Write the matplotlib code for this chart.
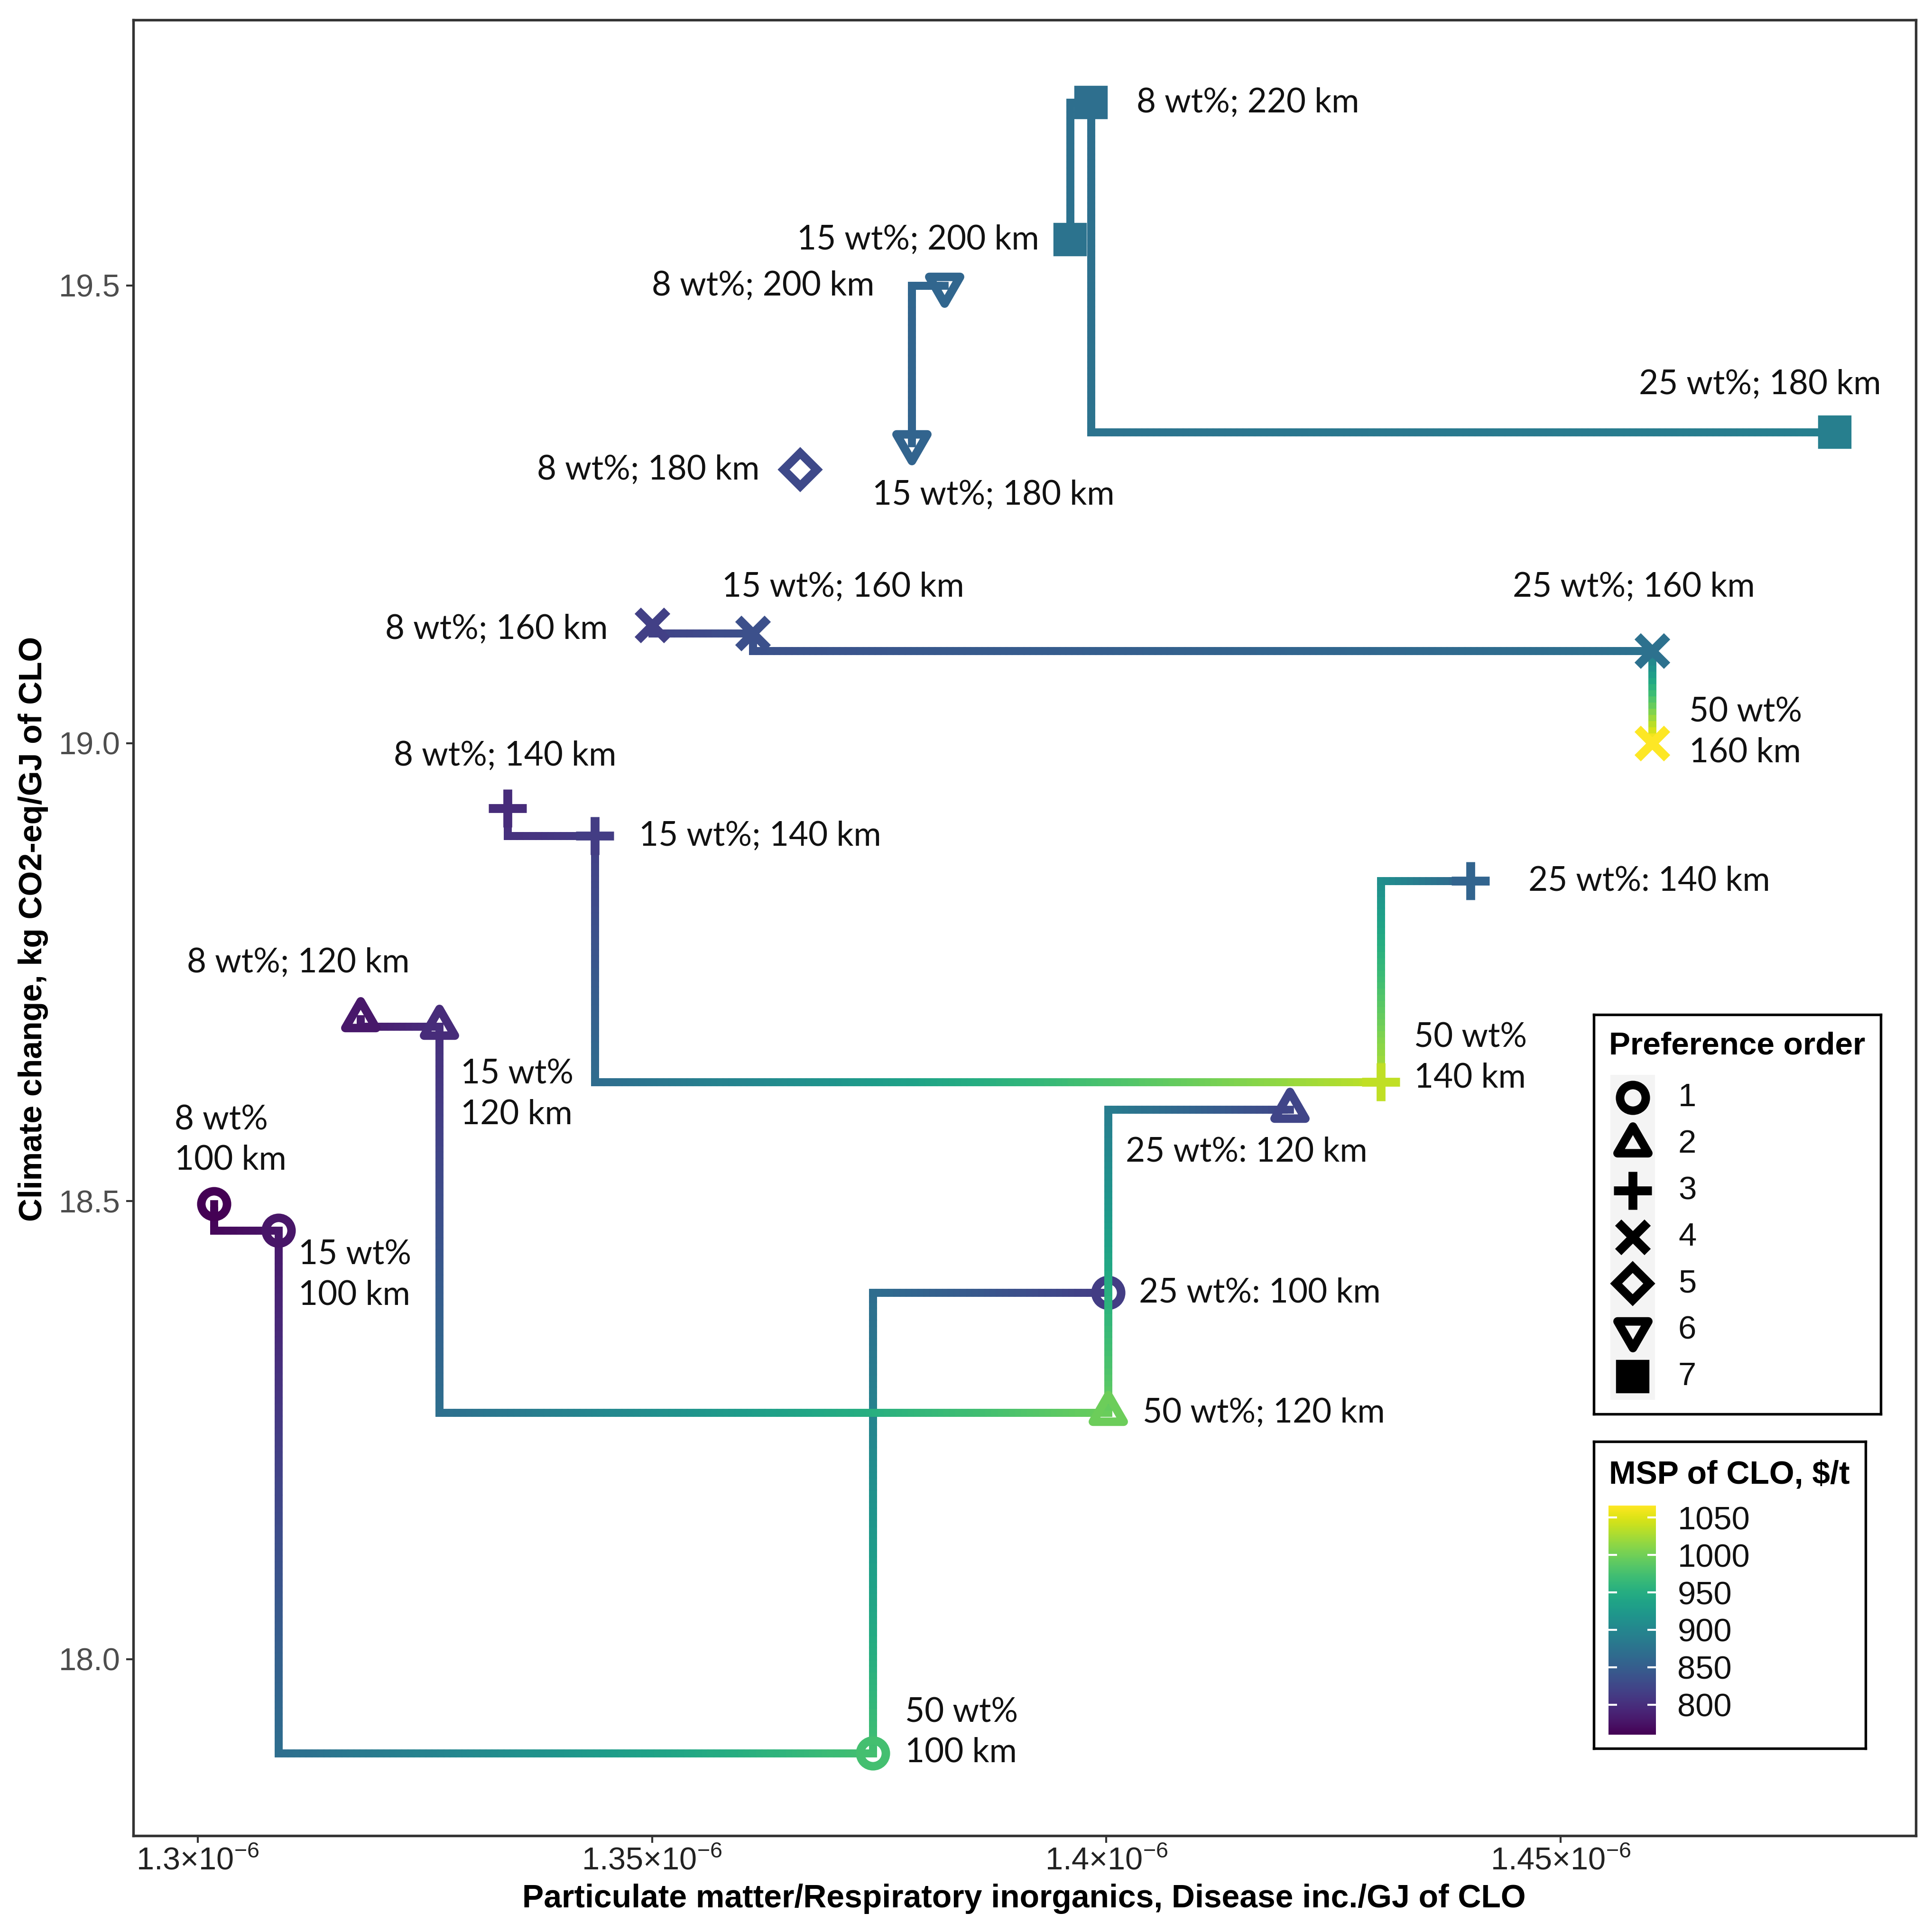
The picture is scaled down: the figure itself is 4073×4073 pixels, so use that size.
import numpy as np
import matplotlib
matplotlib.use("Agg")
import matplotlib.pyplot as plt
from matplotlib.collections import LineCollection
from matplotlib.colors import Normalize
from matplotlib.cm import ScalarMappable
from matplotlib.path import Path
from matplotlib.patches import Rectangle
from matplotlib.ticker import FuncFormatter

# ---- data ----
labels = ["8 wt%\n100 km", "15 wt%\n100 km", "50 wt%\n100 km", "25 wt%: 100 km",
          "8 wt%; 120 km", "15 wt%\n120 km", "50 wt%; 120 km", "25 wt%: 120 km",
          "8 wt%; 140 km", "15 wt%; 140 km", "50 wt%\n140 km", "25 wt%: 140 km",
          "8 wt%; 160 km", "15 wt%; 160 km", "25 wt%; 160 km", "50 wt%\n160 km",
          "8 wt%; 180 km", "15 wt%; 180 km", "8 wt%; 200 km",
          "15 wt%; 200 km", "8 wt%; 220 km", "25 wt%; 180 km"]
pm = [1.3018e-6, 1.3089e-6, 1.3743e-6, 1.4002e-6,
      1.3179e-6, 1.3266e-6, 1.4002e-6, 1.4202e-6,
      1.3341e-6, 1.3437e-6, 1.4302e-6, 1.4401e-6,
      1.3500e-6, 1.3611e-6, 1.4601e-6, 1.4601e-6,
      1.3663e-6, 1.3786e-6, 1.3822e-6,
      1.3960e-6, 1.3983e-6, 1.4802e-6]
gwp = [18.497, 18.468, 17.897, 18.400,
       18.699, 18.691, 18.269, 18.600,
       18.929, 18.899, 18.630, 18.850,
       19.129, 19.120, 19.101, 19.000,
       19.299, 19.328, 19.500,
       19.550, 19.700, 19.340]
msp = [760, 777, 975, 814,
       780, 798, 997, 823,
       798, 814, 1037, 857,
       818, 835, 873, 1066,
       828, 857, 860,
       876, 870, 891]
pref = [1, 1, 1, 1, 2, 2, 2, 2, 3, 3, 3, 3, 4, 4, 4, 4, 5, 6, 6, 7, 7, 7]
pref_levels = [1, 2, 3, 4, 5, 6, 7]
cbar_ticks = [800, 850, 900, 950, 1000, 1050]

# label placement: (ha, dx, dy) in reference pixels (1568 px view), dy up
label_pos = [("left", -32, 52), ("left", 16, -36), ("left", 26, 17), ("left", 25, 0),
             ("left", -141, 46), ("left", 17, -55), ("left", 28, 0), ("center", -35, -34),
             ("center", -2, 43), ("left", 36, 0), ("left", 27, 20), ("left", 47, 0),
             ("right", -36, -3), ("left", -25, 38), ("center", -15, 52), ("left", 30, 9),
             ("right", -33, 0), ("left", -32, -42), ("right", -57, 0),
             ("right", -25, 0), ("left", 37, 0), ("center", -61, 39)]

S = 1568.0
PX2PT = 4073 / S * 72 / 300


def fx(px):
    return px / S


def fy(py):
    return 1 - py / S


tri_up = Path([(0, 1), (-0.866, -0.5), (0.866, -0.5), (0, 1)], closed=True)
tri_dn = Path([(0, -1), (-0.866, 0.5), (0.866, 0.5), (0, -1)], closed=True)
shapes = {1: dict(marker="o", ms=13, mew=4.3, fill=False),
          2: dict(marker=tri_up, ms=18, mew=4.3, fill=False),
          3: dict(marker="+", ms=19, mew=4.5, fill=False),
          4: dict(marker="x", ms=15, mew=4.5, fill=False),
          5: dict(marker="D", ms=12, mew=4.3, fill=False),
          6: dict(marker=tri_dn, ms=18, mew=4.3, fill=False),
          7: dict(marker="s", ms=14.5, mew=2.5, fill=True)}

cmap = plt.get_cmap("viridis")
norm = Normalize(min(msp), max(msp))

plt.rcParams["font.family"] = ["Liberation Sans", "DejaVu Sans"]
plt.rcParams["mathtext.fontset"] = "custom"
plt.rcParams["mathtext.rm"] = "Liberation Sans"
plt.rcParams["mathtext.it"] = "Liberation Sans:italic"
plt.rcParams["mathtext.bf"] = "Liberation Sans:bold"

fig = plt.figure(figsize=(4073 / 300, 4073 / 300), dpi=300)
ax = fig.add_axes([fx(108), fy(1490), fx(1555) - fx(108), fy(16) - fy(1490)])

x = np.array(pm)
y = np.array(gwp)
c = np.array(msp, dtype=float)
p = np.array(pref)

xr = x.max() - x.min()
yr = y.max() - y.min()
ax.set_xlim(x.min() - 0.05 * xr, x.max() + 0.05 * xr)
ax.set_ylim(y.min() - 0.05 * yr, y.max() + 0.05 * yr)
x0, x1 = ax.get_xlim()
y0, y1 = ax.get_ylim()


def step_lines(xs, ys, cs, z):
    # vh staircase, colour blended along the path between neighbouring points
    segs, vals = [], []
    for i in range(len(xs) - 1):
        pts = [(xs[i], ys[i]), (xs[i], ys[i + 1]), (xs[i + 1], ys[i + 1])]
        lens = [abs(ys[i + 1] - ys[i]) / (y1 - y0), abs(xs[i + 1] - xs[i]) / (x1 - x0)]
        total = sum(lens)
        if total == 0:
            continue
        done = 0.0
        for k in range(2):
            if lens[k] == 0:
                continue
            n = max(3, int(lens[k] * 300))
            t = np.linspace(0, 1, n + 1)
            px = pts[k][0] + (pts[k + 1][0] - pts[k][0]) * t
            py = pts[k][1] + (pts[k + 1][1] - pts[k][1]) * t
            for j in range(n):
                segs.append([(px[j], py[j]), (px[j + 1], py[j + 1])])
                frac = (done + lens[k] * (t[j] + t[j + 1]) / 2) / total
                vals.append(cs[i] + (cs[i + 1] - cs[i]) * frac)
            done += lens[k]
    if segs:
        lc = LineCollection(segs, colors=cmap(norm(np.array(vals))), linewidths=4.0,
                            capstyle="projecting", zorder=z)
        ax.add_collection(lc)


for g in pref_levels:
    idx = np.where(p == g)[0]
    idx = idx[np.argsort(x[idx], kind="stable")]
    step_lines(x[idx], y[idx], c[idx], 2 + 2 * g)
    sh = shapes[g]
    for i in idx:
        col = cmap(norm(c[i]))
        ax.plot(x[i], y[i], ls="none", marker=sh["marker"], ms=sh["ms"], mew=sh["mew"],
                mec=col, mfc=col if sh["fill"] else "none", zorder=3 + 2 * g)

for i, txt in enumerate(labels):
    ha, dx, dy = label_pos[i]
    ax.annotate(txt, (x[i], y[i]), xytext=(dx * PX2PT, dy * PX2PT), textcoords="offset points",
                ha=ha, va="center", fontsize=17, family=["Lato", "DejaVu Sans"],
                linespacing=1.37, color="#111111", zorder=30)

ax.set_xticks([1.30e-6, 1.35e-6, 1.40e-6, 1.45e-6])
ax.xaxis.set_major_formatter(FuncFormatter(
    lambda v, pos: ("%.2f" % (v * 1e6)).rstrip("0").rstrip(".") + "×10$^{-6}$"))
ax.set_yticks([18.0, 18.5, 19.0, 19.5])
ax.yaxis.set_major_formatter(FuncFormatter(lambda v, pos: "%.1f" % v))
ax.tick_params(axis="both", direction="out", length=3.5, width=1.0, color="#333333")
ax.tick_params(axis="x", labelsize=16, labelcolor="#222222", pad=2)
ax.tick_params(axis="y", labelsize=16, labelcolor="#4d4d4d", pad=3)
for sp in ax.spines.values():
    sp.set_linewidth(1.3)
    sp.set_color("#333333")

fig.text(fx(831), fy(1541), "Particulate matter/Respiratory inorganics, Disease inc./GJ of CLO",
         ha="center", va="center", fontsize=16.3, fontweight="bold")
fig.text(fx(27), fy(754), "Climate change, kg CO2-eq/GJ of CLO", rotation=90,
         ha="center", va="center", fontsize=16.3, fontweight="bold")


def box_axes(bx0, by0, bx1, by1):
    b = fig.add_axes([fx(bx0), fy(by1), fx(bx1) - fx(bx0), fy(by0) - fy(by1)])
    b.set_xlim(bx0, bx1)
    b.set_ylim(by1, by0)
    b.set_xticks([])
    b.set_yticks([])
    b.set_facecolor("white")
    for sp in b.spines.values():
        sp.set_linewidth(1.3)
        sp.set_color("black")
    return b


# shape legend
lg = box_axes(1293.7, 823.6, 1526.6, 1147.5)
lg.text(1306, 849, "Preference order", ha="left", va="center", fontsize=16.2, fontweight="bold")
for k, g in enumerate(pref_levels):
    yy = 891 + 37.7 * k
    lg.add_patch(Rectangle((1307, yy - 18.8), 36, 37.7, color="#f4f4f4", lw=0))
    sh = shapes[g]
    lg.plot(1325, yy, ls="none", marker=sh["marker"], ms=sh["ms"], mew=sh["mew"],
            mec="black", mfc="black" if sh["fill"] else "none")
    lg.text(1362, yy, str(g), ha="left", va="center", fontsize=16.5, color="#111111")

# colour legend
cb_box = box_axes(1293.7, 1170, 1514, 1419)
cb_box.text(1306, 1197, r"MSP of CLO, \$/t", ha="left", va="center", fontsize=16.3,
            fontweight="bold")
cax = fig.add_axes([fx(1305.6), fy(1407.7), fx(1343.8) - fx(1305.6), fy(1222) - fy(1407.7)])
cb = fig.colorbar(ScalarMappable(norm=norm, cmap=cmap), cax=cax, ticks=cbar_ticks)
cb.outline.set_visible(False)
cax.tick_params(direction="in", length=4.3, width=1.0, color="white", left=True, right=True,
                labelleft=False, labelright=True, labelsize=16.5, labelcolor="#111111", pad=11)

fig.savefig("out.png", dpi=300)
